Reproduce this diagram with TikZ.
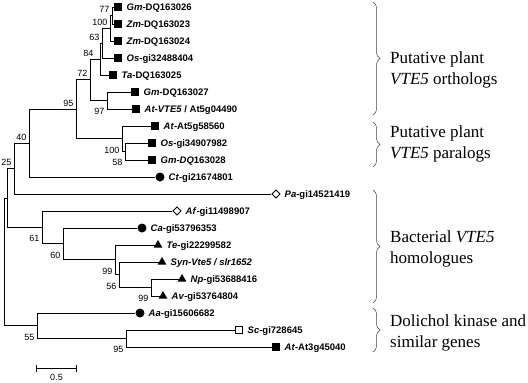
\documentclass[tikz,border=0pt]{standalone}
\usepackage{fontspec}
\setmainfont{Liberation Serif}
\setsansfont{Liberation Sans}
\usepackage{tikz}
\usetikzlibrary{calc,shapes.geometric,arrows.meta,decorations.pathreplacing}
\tikzstyle{branch}=[line width=1pt,draw=black]
\tikzstyle{fsq}=[rectangle,fill=black,minimum size=7.5pt,inner sep=0pt]
\tikzstyle{osq}=[rectangle,draw=black,fill=white,line width=0.9pt,minimum size=7pt,inner sep=0pt]
\tikzstyle{fdot}=[circle,fill=black,minimum size=9pt,inner sep=0pt]
\tikzstyle{ftri}=[regular polygon,regular polygon sides=3,fill=black,minimum size=10pt,inner sep=0pt]
\tikzstyle{odia}=[diamond,draw=black,fill=white,line width=0.9pt,minimum width=8.5pt,minimum height=8.5pt,inner sep=0pt]
\tikzstyle{taxon}=[anchor=base west,inner sep=0pt,font=\fontsize{9.5}{11}\sffamily\bfseries]
\tikzstyle{boot}=[inner sep=0pt,font=\fontsize{9}{10}\sffamily]
\tikzstyle{bootup}=[boot,anchor=south east,xshift=-2.5pt,yshift=2.7pt]
\tikzstyle{bootdn}=[boot,anchor=north east,xshift=-2.5pt,yshift=-8pt]
\tikzstyle{group}=[anchor=west,align=left,inner sep=0pt,font=\fontsize{17}{21}\selectfont]
\tikzstyle{grpbrace}=[decorate,decoration={brace,amplitude=7pt},line width=0.5pt,draw=black!75]
\newcommand\leafsep{17}
\newcommand\taxit[1]{\textit{#1}}
\newcommand\taxleaf[5]{
  \node[#2] (#1) at ($(#3,7+\leafsep*#4)$) {};
  \node[taxon] (#1t) at ($(#1.center)+(8.5,3.4)$) {#5};
}
\newcommand\joinclade[3]{\draw[branch] (#1) |- (#2) (#1) |- (#3);}

\begin{document}
\begin{tikzpicture}[x=1pt,y=-1pt]
    \useasboundingbox (0,0) rectangle (528,383);
    \taxleaf{s0}{fsq}{118}{0}{\taxit{Gm}-DQ163026}
    \taxleaf{s1}{fsq}{118}{1}{\taxit{Zm}-DQ163023}
    \taxleaf{s2}{fsq}{118}{2}{\taxit{Zm}-DQ163024}
    \taxleaf{s3}{fsq}{118}{3}{\taxit{Os}-gi32488404}
    \taxleaf{s4}{fsq}{113}{4}{\taxit{Ta}-DQ163025}
    \taxleaf{s5}{fsq}{135}{5}{\taxit{Gm}-DQ163027}
    \taxleaf{s6}{fsq}{136}{6}{\taxit{At-VTE5} / At5g04490}
    \taxleaf{s7}{fsq}{155}{7}{\taxit{At}-At5g58560}
    \taxleaf{s8}{fsq}{152}{8}{\taxit{Os}-gi34907982}
    \taxleaf{s9}{fsq}{152}{9}{\taxit{Gm-DQ}163028}
    \taxleaf{s10}{fdot}{160}{10}{\taxit{Ct}-gi21674801}
    \taxleaf{s11}{odia}{276}{11}{\taxit{Pa}-gi14521419}
    \taxleaf{s12}{odia}{177}{12}{\taxit{Af}-gi11498907}
    \taxleaf{s13}{fdot}{142}{13}{\taxit{Ca}-gi53796353}
    \taxleaf{s14}{ftri}{158}{14}{\taxit{Te}-gi22299582}
    \taxleaf{s15}{ftri}{162}{15}{\taxit{Syn-Vte5 / slr1652}}
    \taxleaf{s16}{ftri}{182}{16}{\taxit{Np}-gi53688416}
    \taxleaf{s17}{ftri}{163}{17}{\taxit{Av}-gi53764804}
    \taxleaf{s18}{fdot}{140}{18}{\taxit{Aa}-gi15606682}
    \taxleaf{s19}{osq}{239}{19}{\taxit{Sc}-gi728645}
    \taxleaf{s20}{fsq}{276}{20}{\taxit{At}-At3g45040}

    \coordinate (n77) at (112,15.5);
    \coordinate (n100) at (110,28.25);
    \coordinate (n63) at (102,43.1);
    \coordinate (n84) at (100,59);
    \coordinate (n97) at (107,100.5);
    \coordinate (n72) at (90,79.8);
    \coordinate (n58) at (125,151.5);
    \coordinate (n100p) at (122,138.75);
    \coordinate (n95) at (76,109.3);
    \coordinate (n40) at (29,143.1);
    \coordinate (n25) at (14,168.6);
    \coordinate (n99b) at (151,287.5);
    \coordinate (n56) at (119,274.75);
    \coordinate (n99a) at (115,259.9);
    \coordinate (n60) at (63,243.9);
    \coordinate (n61) at (42,227.5);
    \coordinate (nz) at (7,198);
    \coordinate (n95b) at (126,338.5);
    \coordinate (n55) at (37,325.75);
    \coordinate (root) at (4,262);

    \joinclade{n77}{s0.west}{s1.west}
    \joinclade{n100}{n77}{s2.west}
    \joinclade{n63}{n100}{s3.west}
    \joinclade{n84}{n63}{s4.west}
    \joinclade{n97}{s5.west}{s6.west}
    \joinclade{n72}{n84}{n97}
    \joinclade{n58}{s8.west}{s9.west}
    \joinclade{n100p}{s7.west}{n58}
    \joinclade{n95}{n72}{n100p}
    \joinclade{n40}{n95}{s10.west}
    \joinclade{n25}{n40}{s11.west}
    \joinclade{n99b}{s16.west}{s17.west}
    \joinclade{n56}{s15.west}{n99b}
    \joinclade{n99a}{s14.west}{n56}
    \joinclade{n60}{s13.west}{n99a}
    \joinclade{n61}{s12.west}{n60}
    \joinclade{nz}{n25}{n61}
    \joinclade{n95b}{s19.west}{s20.west}
    \joinclade{n55}{s18.west}{n95b}
    \joinclade{root}{nz}{n55}

    \node[bootup] (b77) at (n77) {77};
    \node[bootup] (b100) at (n100) {100};
    \node[bootup] (b63) at (n63) {63};
    \node[bootup,xshift=-4pt] (b84) at (n84) {84};
    \node[bootup] (b72) at (n72) {72};
    \node[bootdn] (b97) at (n97) {97};
    \node[bootdn] (b58) at (n58) {58};
    \node[bootdn] (b100p) at (n100p) {100};
    \node[bootup] (b95) at (n95) {95};
    \node[bootup] (b40) at (n40) {40};
    \node[bootup] (b25) at (n25) {25};
    \node[bootdn] (b99b) at (n99b) {99};
    \node[bootdn] (b56) at (n56) {56};
    \node[bootdn] (b99a) at (n99a) {99};
    \node[bootdn] (b60) at (n60) {60};
    \node[bootdn] (b61) at (n61) {61};
    \node[bootdn] (b95b) at (n95b) {95};
    \node[bootdn] (b55) at (n55) {55};

    \coordinate (sbl) at (36,368);
    \coordinate (sbr) at (77,368);
    \draw[line width=0.9pt,{Bar[width=7pt]}-{Bar[width=7pt]}] (sbl) -- (sbr);
    \node[boot,anchor=north] (sbt) at ($(sbl)!.5!(sbr)+(0,6.5)$) {0.5};

    \coordinate (ortop) at (373,2);
    \coordinate (orbot) at (373,115);
    \coordinate (patop) at (373,122);
    \coordinate (pabot) at (373,167);
    \coordinate (batop) at (373,190);
    \coordinate (babot) at (373,303);
    \coordinate (dktop) at (373,308);
    \coordinate (dkbot) at (373,352);
    \draw[grpbrace] (ortop) -- (orbot);
    \draw[grpbrace] (patop) -- (pabot);
    \draw[grpbrace] (batop) -- (babot);
    \draw[grpbrace] (dktop) -- (dkbot);
    \node[group] (ortho) at (390,69.5) {Putative plant\\\textit{VTE5} orthologs};
    \node[group] (para) at (390,144) {Putative plant\\\textit{VTE5} paralogs};
    \node[group] (bact) at (390,249) {Bacterial \textit{VTE5}\\homologues};
    \node[group] (dolk) at (390,332.5) {Dolichol kinase and\\similar genes};
\end{tikzpicture}
\end{document}
